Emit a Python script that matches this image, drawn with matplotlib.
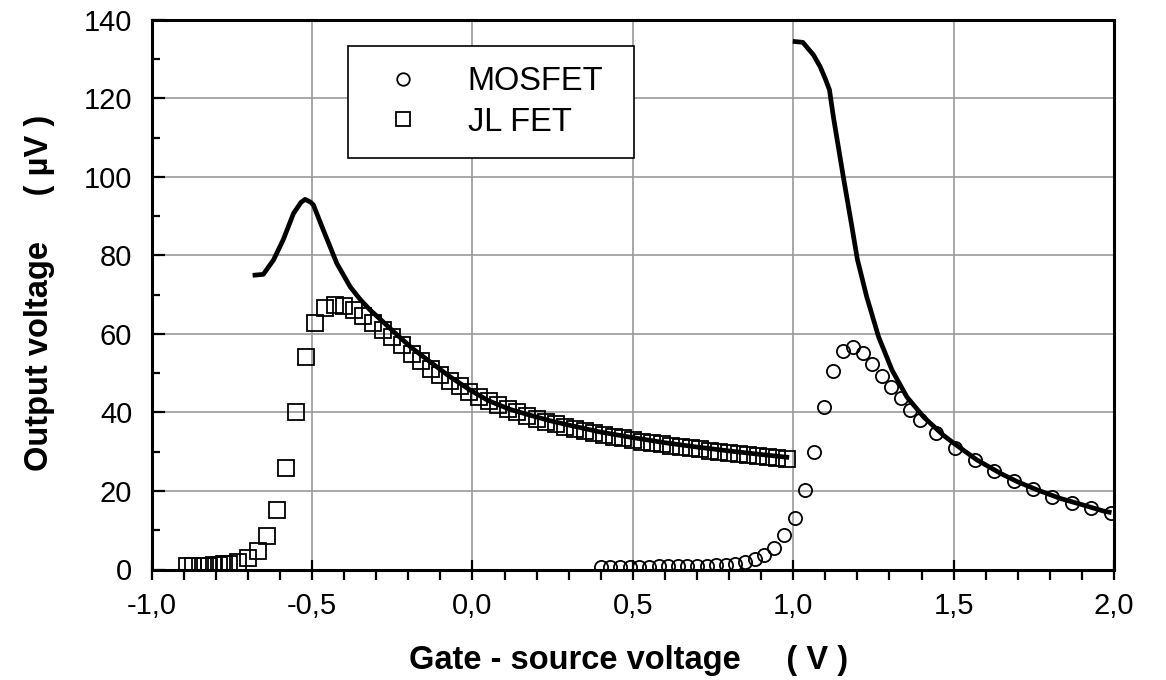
import matplotlib
matplotlib.use("Agg")
import matplotlib.pyplot as plt
from matplotlib.ticker import MultipleLocator, FuncFormatter

plt.rcParams["font.family"] = ["Liberation Sans", "DejaVu Sans"]
plt.rcParams["axes.unicode_minus"] = False

# JL FET measured points
jl_x = [-0.89, -0.87, -0.85, -0.835, -0.82, -0.805, -0.79, -0.775, -0.76,
        -0.73, -0.70, -0.67, -0.64, -0.61, -0.58, -0.55, -0.52, -0.49, -0.46,
        -0.43, -0.40, -0.37, -0.34, -0.31, -0.28, -0.25, -0.22, -0.19, -0.16,
        -0.13, -0.10, -0.07, -0.04, -0.01, 0.02, 0.05, 0.08, 0.11, 0.14, 0.17,
        0.20, 0.23, 0.26, 0.29, 0.32, 0.35, 0.38, 0.41, 0.44, 0.47, 0.50,
        0.53, 0.56, 0.59, 0.62, 0.65, 0.68, 0.71, 0.74, 0.77, 0.80, 0.83,
        0.86, 0.89, 0.92, 0.95, 0.98]
jl_y = [1.0, 1.0, 1.0, 1.0, 1.0, 1.1, 1.2, 1.3, 1.4,
        2.0, 2.9, 4.7, 8.5, 15.2, 25.8, 40.0, 54.2, 62.7, 66.5,
        67.5, 67.2, 66.0, 64.5, 62.8, 61.0, 59.2, 57.2, 55.0, 53.0,
        51.2, 49.6, 48.1, 46.7, 45.3, 44.0, 42.9, 41.9, 40.9, 40.0, 39.2,
        38.4, 37.6, 37.0, 36.4, 35.8, 35.3, 34.8, 34.3, 33.8, 33.4, 33.0,
        32.6, 32.2, 31.9, 31.5, 31.2, 30.9, 30.6, 30.3, 30.0, 29.7, 29.4,
        29.2, 28.9, 28.7, 28.4, 28.2]

# JL FET model curve
jl_fit_x = [-0.678, -0.652, -0.62, -0.59, -0.558, -0.535, -0.522, -0.505,
            -0.496, -0.465, -0.423, -0.381, -0.35, -0.319, -0.28, -0.246,
            -0.19, -0.132, -0.07, -0.007, 0.05, 0.117, 0.18, 0.242, 0.3,
            0.4, 0.5, 0.6, 0.7, 0.8, 0.9, 0.98]
jl_fit_y = [75.0, 75.2, 78.9, 84.0, 90.7, 93.5, 94.3, 93.6,
            92.9, 86.5, 78.0, 72.0, 68.8, 66.1, 63.2, 60.6,
            56.5, 52.9, 49.1, 45.7, 43.0, 40.8, 39.3, 37.9, 36.8,
            35.0, 33.6, 32.3, 31.2, 30.2, 29.3, 28.6]

# MOSFET measured points
mos_x = [0.40, 0.43, 0.46, 0.49, 0.52, 0.55, 0.58, 0.61, 0.64, 0.67, 0.70,
         0.73, 0.76, 0.79, 0.82, 0.85, 0.88, 0.91, 0.94, 0.97, 1.005, 1.037,
         1.066, 1.097, 1.125, 1.155, 1.186, 1.217, 1.245, 1.276, 1.305,
         1.335, 1.365, 1.395, 1.446, 1.505, 1.567, 1.627, 1.687, 1.749,
         1.806, 1.868, 1.929, 1.99]
mos_y = [0.6, 0.6, 0.7, 0.7, 0.7, 0.7, 0.8, 0.8, 0.8, 0.9, 0.9,
         1.0, 1.1, 1.2, 1.4, 1.9, 2.6, 3.6, 5.4, 8.7, 13.2, 20.3,
         29.9, 41.3, 50.6, 55.7, 56.8, 55.1, 52.4, 49.4, 46.6,
         43.6, 40.6, 38.1, 34.7, 30.9, 27.9, 25.1, 22.5, 20.4,
         18.5, 16.9, 15.6, 14.3]

# MOSFET model curve
mos_fit_x = [1.006, 1.03, 1.063, 1.084, 1.10, 1.113, 1.125, 1.156, 1.183,
             1.20, 1.229, 1.266, 1.308, 1.354, 1.406, 1.468, 1.5, 1.573,
             1.646, 1.698, 1.76, 1.833, 1.905, 1.967, 1.985]
mos_fit_y = [134.5, 134.3, 131.1, 128.1, 125.0, 122.2, 115.4, 100.1, 87.3,
             79.0, 69.5, 59.3, 50.8, 44.0, 38.9, 34.2, 32.2, 27.9,
             24.5, 22.4, 20.3, 18.1, 16.4, 14.9, 14.6]

fig = plt.figure(figsize=(11.66, 6.8), dpi=100)
ax = fig.add_axes([0.1301, 0.1625, 0.8253, 0.8081])

ax.plot(mos_x, mos_y, linestyle="none", marker="o", markersize=9.5,
        markerfacecolor="none", markeredgecolor="black", markeredgewidth=1.3,
        label="MOSFET", zorder=3)
ax.plot(jl_x, jl_y, linestyle="none", marker="s", markersize=11,
        markerfacecolor="none", markeredgecolor="black", markeredgewidth=1.3,
        label="JL FET", zorder=3)
ax.plot(jl_fit_x, jl_fit_y, color="black", linewidth=3.4, zorder=4)
ax.plot(mos_fit_x, mos_fit_y, color="black", linewidth=3.4, zorder=4)

ax.set_xlim(-1, 2)
ax.set_ylim(0, 140)
ax.xaxis.set_major_locator(MultipleLocator(0.5))
ax.xaxis.set_minor_locator(MultipleLocator(0.1))
ax.yaxis.set_major_locator(MultipleLocator(20))
ax.yaxis.set_minor_locator(MultipleLocator(10))
ax.xaxis.set_major_formatter(FuncFormatter(lambda v, p: f"{v:.1f}".replace(".", ",")))
ax.yaxis.set_major_formatter(FuncFormatter(lambda v, p: f"{v:.0f}"))

ax.grid(True, which="major", color="#9a9a9a", linewidth=1.2)
ax.set_axisbelow(True)
for s in ax.spines.values():
    s.set_linewidth(2.2)
    s.set_color("black")

ax.tick_params(axis="x", which="major", direction="inout", length=14, width=1.6,
               labelsize=21, pad=9)
ax.tick_params(axis="x", which="minor", direction="out", length=7, width=1.6)
ax.tick_params(axis="y", which="major", direction="in", length=9, width=1.6,
               labelsize=21, pad=14)
ax.tick_params(axis="y", which="minor", direction="in", length=6, width=1.6)

ax.set_xlabel("Gate - source voltage     ( V )", fontsize=23.5, fontweight="bold")
ax.set_ylabel("Output voltage     ( µV )", fontsize=23.5, fontweight="bold")
ax.xaxis.set_label_coords(0.496, -0.137)
ax.yaxis.set_label_coords(-0.1005, 0.503)

leg = ax.legend(loc="upper left", bbox_to_anchor=(0.204, 0.756, 0.297, 0.197),
                mode="expand", borderaxespad=0, fontsize=23.5, frameon=True,
                fancybox=False, edgecolor="black", framealpha=1,
                borderpad=0.62, handlelength=2.1, handletextpad=0.95,
                labelspacing=0.3, numpoints=1, markerscale=0.95)
leg.get_frame().set_linewidth(1.2)

fig.savefig("out.png", dpi=100)
